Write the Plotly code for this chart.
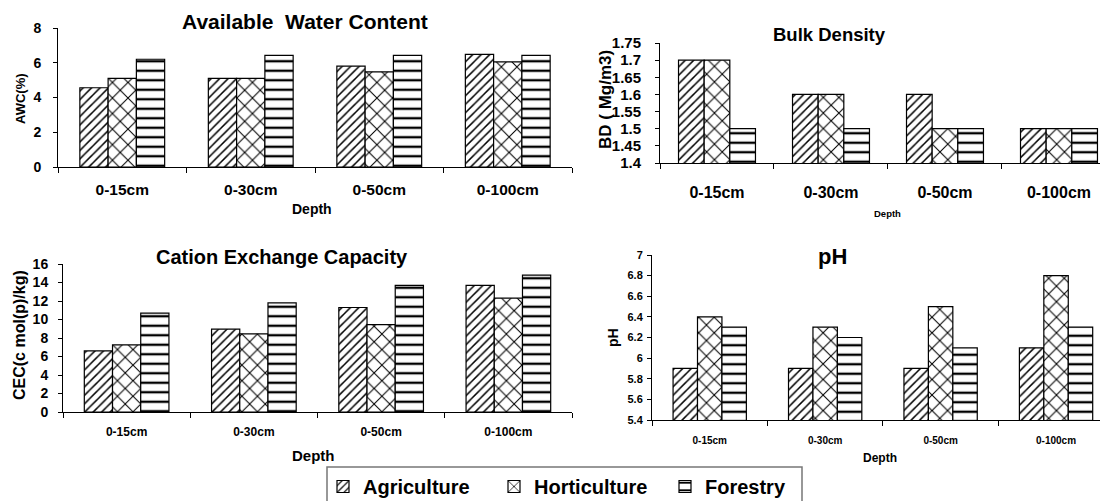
import plotly.graph_objects as go

# ---------------- data ----------------
depths = ["0-15cm", "0-30cm", "0-50cm", "0-100cm"]
series = ["Agriculture", "Horticulture", "Forestry"]

awc_agriculture = [4.56, 5.1, 5.8, 6.48]
awc_horticulture = [5.1, 5.1, 5.48, 6.05]
awc_forestry = [6.2, 6.42, 6.42, 6.42]

bd_agriculture = [1.7, 1.6, 1.6, 1.5]
bd_horticulture = [1.7, 1.6, 1.5, 1.5]
bd_forestry = [1.5, 1.5, 1.5, 1.5]

cec_agriculture = [6.6, 8.95, 11.3, 13.7]
cec_horticulture = [7.25, 8.45, 9.45, 12.3]
cec_forestry = [10.7, 11.8, 13.7, 14.8]

ph_agriculture = [5.9, 5.9, 5.9, 6.1]
ph_horticulture = [6.4, 6.3, 6.5, 6.8]
ph_forestry = [6.3, 6.2, 6.1, 6.3]

# ---------------- styling ----------------
W, H = 1108, 501          # browser window
PAD = 8                   # default page margin around the plot div
FW, FH = W - PAD, H - PAD  # figure size so it ends at the window edge
FONT = "Liberation Sans, Arial, sans-serif"
patterns = {"Agriculture": dict(shape="/", size=6, solidity=0.25),
            "Horticulture": dict(shape="x", size=11, solidity=0.18),
            "Forestry": dict(shape="-", size=9.5, solidity=0.25)}


def px(x):
    return (x - PAD) / FW


def py(y):
    return 1 - (y - PAD) / FH


fig = go.Figure()

panels = [
    # (axis suffix, values, group width)
    ("", [awc_agriculture, awc_horticulture, awc_forestry], 0.66),
    ("2", [bd_agriculture, bd_horticulture, bd_forestry], 0.675),
    ("3", [cec_agriculture, cec_horticulture, cec_forestry], 0.665),
    ("4", [ph_agriculture, ph_horticulture, ph_forestry], 0.635),
]

for pi, (suf, vals, gw) in enumerate(panels):
    w = gw / 3
    for si, (name, v) in enumerate(zip(series, vals)):
        fig.add_trace(go.Bar(
            x=depths, y=v, name=name,
            xaxis="x" + suf, yaxis="y" + suf,
            width=w, offset=-gw / 2 + si * w,
            marker=dict(color="white",
                        line=dict(color="black", width=1.2),
                        pattern=dict(fgcolor="black", bgcolor="white",
                                     fillmode="replace", **patterns[name])),
            legendgroup=name, showlegend=(pi == 0),
        ))


def xax(domain, anchor, size, standoff, rng=(-0.5, 3.5)):
    return dict(domain=domain, anchor=anchor, type="category",
                range=list(rng), showline=True, linecolor="black", linewidth=1,
                ticks="outside", tickson="boundaries", ticklen=5, tickcolor="black",
                showgrid=False, zeroline=False, ticklabelstandoff=standoff,
                automargin=False,
                tickfont=dict(family=FONT, size=size, color="black", weight="bold"))


def yax(domain, anchor, rng, dtick, size, standoff):
    return dict(domain=domain, anchor=anchor, range=list(rng), dtick=dtick,
                showline=True, linecolor="black", linewidth=1,
                ticks="outside", ticklen=4, tickcolor="black",
                showgrid=False, zeroline=False, ticklabelstandoff=standoff,
                automargin=False,
                tickfont=dict(family=FONT, size=size, color="black", weight="bold"))


fig.update_layout(
    xaxis=xax([px(58), px(572)], "y", 15.5, 8),
    yaxis=yax([py(167), py(28)], "x", (0, 8), 2, 14, 9),
    xaxis2=xax([px(660), 1.0], "y2", 16, 15, rng=(-0.5, 3.43)),
    yaxis2=yax([py(163), py(43)], "x2", (1.4, 1.75), 0.05, 15, 11),
    xaxis3=xax([px(63), px(572)], "y3", 12, 9),
    yaxis3=yax([py(412), py(264)], "x3", (0, 16), 2, 14, 7),
    xaxis4=xax([px(652), 1.0], "y4", 10, 11, rng=(-0.5, 3.45)),
    yaxis4=yax([py(420), py(255)], "x4", (5.4, 7), 0.2, 11, 2),
)

ann = [
    # text, x, y, size, angle
    ("Available  Water Content", 305, 22, 21, 0),
    ("Bulk Density", 829, 35, 18.5, 0),
    ("Cation Exchange Capacity", 282, 257, 20, 0),
    ("pH", 832, 256, 22, 0),
    ("AWC(%)", 21, 99, 13, -90),
    ("BD ( Mg/m3)", 606, 99, 17, -90),
    ("CEC(c mol(p)/kg)", 19, 335, 16, -90),
    ("pH", 613, 338, 14, -90),
    ("Depth", 312, 209, 14, 0),
    ("Depth", 887, 213, 9.5, 0),
    ("Depth", 313, 455, 15, 0),
    ("Depth", 880, 458, 12, 0),
]
fig.update_layout(annotations=[
    dict(text=t, x=px(x), y=py(y), xref="paper", yref="paper",
         xanchor="center", yanchor="middle", showarrow=False, textangle=a,
         font=dict(family=FONT, size=s, color="black", weight="bold"))
    for t, x, y, s, a in ann
])

# frame around the legend (cut by the bottom edge as in the original)
fig.add_shape(type="rect", xref="paper", yref="paper",
              x0=px(327), x1=px(802), y0=py(520), y1=py(467),
              line=dict(color="#777777", width=1.5), fillcolor="rgba(0,0,0,0)")

fig.update_layout(
    width=FW, height=FH,
    margin=dict(l=0, r=0, t=0, b=0, autoexpand=False),
    paper_bgcolor="white", plot_bgcolor="white",
    font=dict(family=FONT, color="black"),
    legend=dict(orientation="h", x=px(323), y=py(467), xanchor="left", yanchor="top",
                borderwidth=0, bgcolor="rgba(0,0,0,0)",
                entrywidth=126, entrywidthmode="pixels",
                font=dict(family=FONT, size=20, color="black", weight="bold")),
)

fig.write_html("out.html")
